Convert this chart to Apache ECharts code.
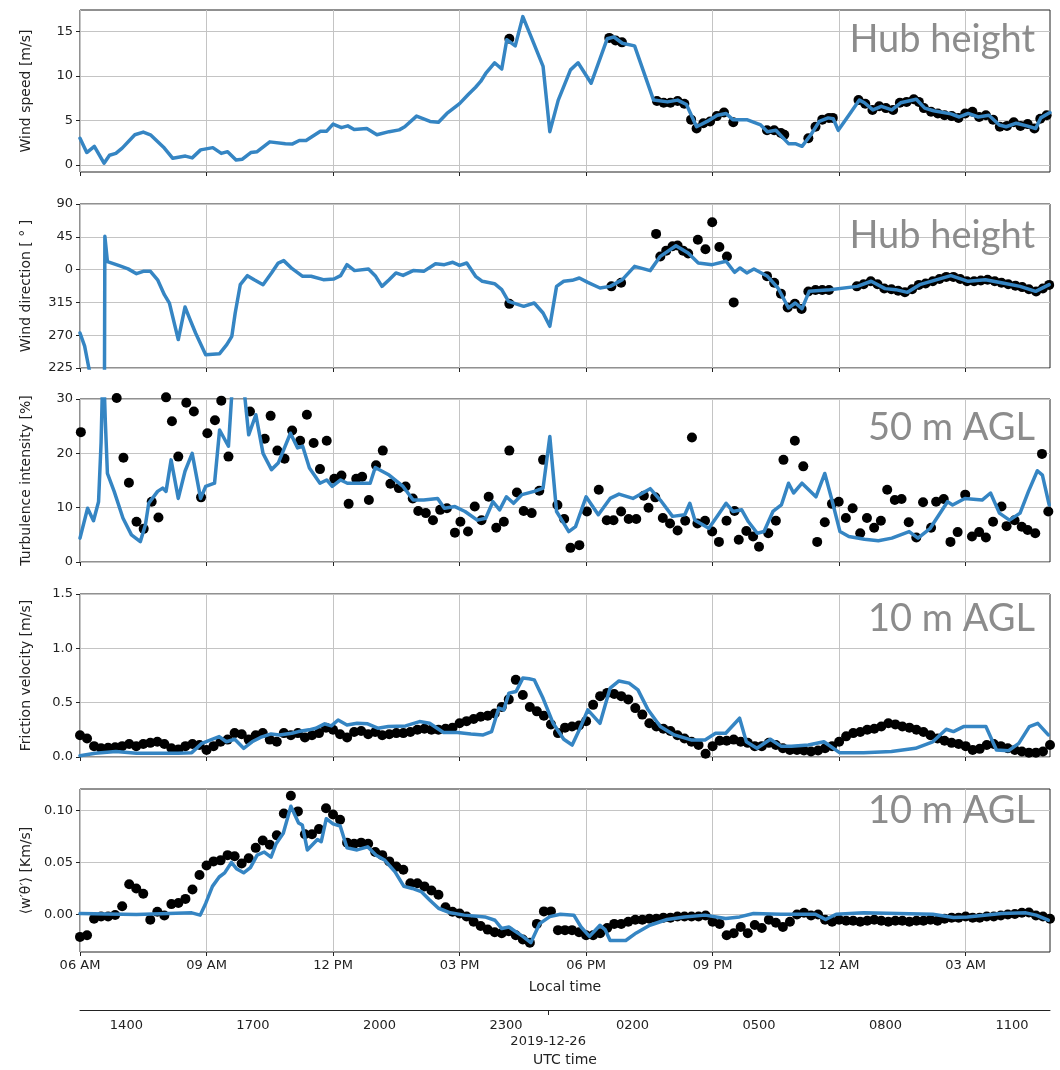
<!DOCTYPE html>
<html><head><meta charset="utf-8">
<script src="https://cdn.jsdelivr.net/npm/echarts@6/dist/echarts.min.js"></script>
<style>html,body{margin:0;padding:0;background:#fff}#c{width:1060px;height:1070px}</style>
</head><body><div id="c"></div>
<script>
// ---------- tick labels ----------
const localTicks = [0, 3, 6, 9, 12, 15, 18, 21];              // hours after 06:00 local
const localTickLabels = ['06 AM','09 AM','12 PM','03 PM','06 PM','09 PM','12 AM','03 AM'];
const utcTicks = [14, 17, 20, 23, 26, 29, 32, 35];             // UTC hours
const utcTickLabels = ['1400','1700','2000','2300','0200','0500','0800','1100'];
const utcDateTick = [24];
const utcDateLabel = '2019-12-26';
const panelLabels = ['Hub height', 'Hub height', '50 m AGL', '10 m AGL', '10 m AGL'];
const axisNames = ['Wind speed [m/s]', 'Wind direction [ ° ]', 'Turbulence intensity [%]', 'Friction velocity [m/s]', '⟨w′θ′⟩ [Km/s]'];

// ---------- panel 1: wind speed (model line, observations) [hour, value] ----------
const windSpeedModel = [[0,3.0],[0.16,1.4],[0.34,2.1],[0.57,0.2],[0.7,1.1],[0.85,1.3],[1.0,1.9],[1.3,3.4],[1.5,3.7],[1.67,3.4],[2.0,1.9],[2.2,0.75],[2.5,1.0],[2.66,0.8],[2.86,1.7],[3.15,1.95],[3.35,1.3],[3.5,1.5],[3.7,0.55],[3.85,0.65],[4.05,1.4],[4.2,1.5],[4.5,2.6],[4.87,2.4],[5.03,2.35],[5.2,2.75],[5.36,2.75],[5.7,3.8],[5.85,3.8],[6.0,4.6],[6.2,4.2],[6.35,4.4],[6.5,4.0],[6.8,4.1],[7.04,3.4],[7.33,3.75],[7.57,3.95],[7.7,4.3],[7.98,5.5],[8.3,4.9],[8.5,4.8],[8.7,5.8],[9.0,6.9],[9.2,7.9],[9.38,8.75],[9.5,9.4],[9.62,10.3],[9.83,11.5],[10.0,10.8],[10.12,14.1],[10.32,13.4],[10.5,16.7],[10.69,14.5],[10.98,11.1],[11.14,3.75],[11.34,7.3],[11.63,10.7],[11.81,11.5],[12.12,9.2],[12.5,14.2],[12.66,14.4],[12.86,13.7],[13.15,13.4],[13.6,7.3],[13.93,7.1],[14.17,7.3],[14.38,6.8],[14.62,4.3],[14.87,4.9],[15.11,5.6],[15.32,5.8],[15.48,5.1],[15.81,5.1],[16.14,4.5],[16.3,3.75],[16.5,3.9],[16.8,2.4],[16.96,2.4],[17.12,2.1],[17.33,3.4],[17.53,4.9],[17.74,5.3],[17.86,5.2],[17.98,3.9],[18.23,5.6],[18.48,7.3],[18.6,7.0],[18.8,6.2],[19.0,6.6],[19.25,6.2],[19.46,7.0],[19.83,7.4],[20.03,6.4],[20.24,6.1],[20.65,5.75],[20.85,5.4],[21.06,5.8],[21.3,5.4],[21.55,5.6],[21.8,4.5],[21.96,4.3],[22.2,4.7],[22.45,4.4],[22.66,4.1],[22.78,5.3],[23.0,5.9]];
const windSpeedObs = [[10.18,14.2],[12.55,14.3],[12.7,14.0],[12.85,13.8],[13.68,7.2],[13.84,7.0],[14.0,7.0],[14.17,7.2],[14.33,6.9],[14.49,5.1],[14.62,4.1],[14.78,4.7],[14.94,4.9],[15.1,5.5],[15.27,5.9],[15.49,4.8],[16.29,3.9],[16.46,3.9],[16.62,3.6],[16.7,3.4],[17.27,3.0],[17.44,4.3],[17.6,5.1],[17.76,5.3],[17.85,5.3],[18.46,7.3],[18.62,6.9],[18.79,6.2],[18.95,6.6],[19.11,6.4],[19.28,6.2],[19.44,7.0],[19.6,7.1],[19.77,7.4],[19.89,7.1],[20.01,6.4],[20.18,6.0],[20.34,5.8],[20.5,5.6],[20.67,5.5],[20.83,5.3],[20.99,5.8],[21.16,6.0],[21.32,5.4],[21.48,5.6],[21.65,5.1],[21.81,4.3],[21.98,4.4],[22.14,4.8],[22.3,4.4],[22.47,4.6],[22.63,4.1],[22.77,5.2],[22.92,5.6]];

// ---------- panel 2: wind direction, degrees on an axis running 225..450 (= 90) ----------
const windDirModel = [[0,273],[0.11,255],[0.21,225],[0.3,205],[0.58,205],[0.59,405.6],[0.65,371],[0.93,365.4],[1.14,361],[1.34,354.4],[1.5,357.6],[1.67,357.6],[1.84,346],[2.0,325.6],[2.12,314],[2.33,264],[2.49,308.7],[2.61,291.3],[2.74,273],[2.98,243.3],[3.31,244.7],[3.48,257],[3.6,268.5],[3.68,300.5],[3.8,339.3],[3.97,351.7],[4.13,346],[4.34,339.3],[4.54,355.4],[4.7,369],[4.83,372.3],[5.03,361.3],[5.28,350.8],[5.48,350.8],[5.77,346.2],[6.02,347.1],[6.18,351.7],[6.33,366.8],[6.51,358.6],[6.84,360.8],[7.0,351.7],[7.16,337],[7.33,346.2],[7.49,355.4],[7.66,352],[7.9,358.6],[8.15,357.6],[8.43,368.1],[8.64,366.8],[8.84,370],[9.0,365.9],[9.17,369.1],[9.38,350.8],[9.54,343.9],[9.83,340.7],[10.0,332.5],[10.16,316.5],[10.52,309.6],[10.77,314.2],[10.98,300.5],[11.14,282.2],[11.3,337],[11.47,344],[11.67,345.3],[11.84,348.5],[12.04,342.5],[12.33,334.8],[12.57,337],[12.86,346.2],[13.15,364.5],[13.52,358.6],[13.76,378.2],[14.13,392.8],[14.42,382.8],[14.66,369.1],[14.99,366.8],[15.32,371.4],[15.52,356.3],[15.65,362.2],[15.81,355.4],[15.98,360.8],[16.3,350.8],[16.55,334.8],[16.8,307.3],[16.96,314.2],[17.12,306.4],[17.29,330.2],[17.78,332.5],[18.43,337],[18.76,344],[19.09,333.9],[19.34,332.5],[19.62,328.8],[19.91,339.3],[20.32,346.2],[20.65,351.7],[21.06,343.9],[21.47,346.2],[21.88,341.6],[22.29,337],[22.66,330.2],[22.98,339.3]];
const windDirObs = [[10.18,313],[12.6,337],[12.83,342],[13.66,409],[13.76,378],[13.9,386],[14.05,392],[14.17,393],[14.3,386],[14.42,382],[14.65,401],[14.83,388],[14.99,425],[15.16,391],[15.34,378],[15.5,315],[16.29,351],[16.46,342],[16.62,327],[16.78,308],[16.95,313],[17.11,306],[17.27,330],[17.44,332],[17.6,332],[17.76,332],[18.42,337],[18.58,340],[18.75,344],[18.91,340],[19.07,334],[19.24,333],[19.4,331],[19.56,329],[19.73,333],[19.89,339],[20.05,341],[20.22,344],[20.38,347],[20.54,350],[20.71,350],[20.87,347],[21.03,344],[21.2,344],[21.36,345],[21.52,346],[21.69,344],[21.85,342],[22.01,340],[22.18,338],[22.34,336],[22.5,333],[22.67,330],[22.83,334],[22.98,339]];

// ---------- panel 3: turbulence intensity ----------
const tiModel = [[0,4.4],[0.18,9.9],[0.32,7.6],[0.44,11.1],[0.5,22],[0.55,38],[0.6,26],[0.65,16.3],[0.81,13],[1.02,8.05],[1.22,5],[1.43,3.75],[1.55,6.8],[1.63,10.8],[1.84,13],[1.96,13.6],[2.04,13],[2.16,18.8],[2.33,11.7],[2.49,16.7],[2.66,20],[2.86,11.7],[2.98,13.9],[3.19,14.5],[3.31,24.3],[3.52,21.3],[3.6,31],[3.7,38],[3.82,38],[3.9,31],[4.0,23.4],[4.17,27.1],[4.34,20],[4.54,17],[4.7,18.2],[4.99,23.7],[5.16,21],[5.28,21.3],[5.44,17.3],[5.69,14.5],[5.85,15.1],[5.98,13.9],[6.18,15.1],[6.34,14.5],[6.67,14.5],[6.88,14.5],[7.0,17.4],[7.33,16],[7.66,13.9],[7.9,11.4],[8.15,11.4],[8.48,11.7],[8.64,9.9],[8.89,10.2],[9.13,9.3],[9.42,7.7],[9.62,8.05],[9.79,11.1],[9.95,9.6],[10.11,12],[10.28,10.8],[10.48,12.4],[10.77,13],[10.98,13.6],[11.14,23.1],[11.3,9.3],[11.59,5.6],[11.75,6.5],[12.0,12],[12.29,8.7],[12.57,11.7],[12.78,12.5],[13.11,11.7],[13.52,13.5],[13.76,11.4],[14.05,8.4],[14.34,8.7],[14.46,10.8],[14.58,7.7],[14.91,6.2],[15.11,8.4],[15.32,10.8],[15.48,9.3],[15.69,9.6],[15.85,7.4],[16.06,5.3],[16.22,5.6],[16.43,9.3],[16.63,10.5],[16.8,14.5],[16.92,12.7],[17.12,14.5],[17.45,12],[17.66,16.3],[17.82,11.7],[18.02,5.6],[18.23,4.7],[18.6,4.2],[18.93,3.9],[19.25,4.4],[19.66,5.6],[19.87,4.4],[20.16,6.2],[20.57,11.1],[20.69,10.5],[20.98,11.7],[21.39,11.4],[21.59,12.7],[21.8,9],[22.04,7.7],[22.29,9],[22.49,13],[22.7,16.8],[22.82,16],[22.98,10.5]];
const tiObs = [[0.02,23.9],[0.87,30.2],[1.03,19.2],[1.16,14.6],[1.34,7.4],[1.51,6.1],[1.7,11.1],[1.86,8.2],[2.04,30.3],[2.18,25.9],[2.33,19.4],[2.52,29.3],[2.7,27.7],[2.87,11.9],[3.02,23.7],[3.2,26.1],[3.35,29.7],[3.52,19.4],[4.03,27.7],[4.38,22.7],[4.52,26.9],[4.68,20.5],[4.85,19],[5.03,24.2],[5.22,22.3],[5.38,27.1],[5.54,21.9],[5.69,17.1],[5.85,22.3],[6.03,15.3],[6.2,15.9],[6.37,10.7],[6.55,15.3],[6.69,15.7],[6.85,11.4],[7.02,17.8],[7.18,20.5],[7.36,14.4],[7.56,13.6],[7.72,13.9],[7.89,11.7],[8.02,9.4],[8.2,9.0],[8.37,7.7],[8.54,9.6],[8.7,9.9],[8.89,5.4],[9.02,7.4],[9.2,5.6],[9.36,10.2],[9.52,7.7],[9.69,12],[9.87,6.3],[10.05,7.4],[10.18,20.5],[10.36,12.8],[10.52,9.4],[10.71,9.0],[10.89,13.1],[10.98,18.8],[11.32,10.5],[11.48,7.9],[11.63,2.6],[11.84,3.1],[12.02,9.3],[12.3,13.3],[12.49,7.7],[12.65,7.7],[12.83,9.3],[13.01,7.9],[13.19,7.9],[13.37,12.2],[13.48,10.0],[13.64,11.9],[13.82,8.1],[13.99,7.1],[14.17,5.8],[14.35,7.6],[14.51,22.9],[14.64,7.1],[14.82,7.6],[14.99,5.6],[15.15,3.7],[15.33,7.6],[15.52,9.4],[15.62,4.1],[15.8,5.7],[15.96,4.7],[16.1,2.8],[16.32,5.3],[16.5,7.6],[16.68,18.8],[16.95,22.3],[17.15,17.6],[17.48,3.7],[17.66,7.3],[17.83,10.7],[17.99,11.1],[18.16,8.1],[18.32,9.9],[18.5,5.3],[18.66,8.1],[18.83,6.3],[18.99,7.6],[19.14,13.3],[19.32,11.4],[19.48,11.6],[19.65,7.3],[19.83,4.5],[19.99,11.0],[20.18,6.3],[20.3,11.1],[20.48,11.6],[20.64,3.7],[20.81,5.5],[20.99,12.4],[21.15,4.7],[21.32,5.5],[21.48,4.5],[21.65,7.4],[21.85,10.2],[21.97,6.6],[22.16,7.7],[22.33,6.5],[22.47,5.9],[22.65,5.3],[22.81,19.9],[22.96,9.3]];

// ---------- panel 4: friction velocity ----------
const ustarModel = [[0,0.012],[0.36,0.034],[0.85,0.05],[1.34,0.034],[1.83,0.034],[2.32,0.034],[2.65,0.04],[2.89,0.126],[3.1,0.157],[3.3,0.188],[3.47,0.14],[3.67,0.163],[3.88,0.08],[4.08,0.14],[4.28,0.18],[4.53,0.212],[4.73,0.203],[5.02,0.218],[5.18,0.234],[5.43,0.25],[5.59,0.265],[5.8,0.305],[5.96,0.286],[6.12,0.34],[6.33,0.295],[6.57,0.31],[6.82,0.305],[7.06,0.265],[7.31,0.28],[7.72,0.286],[8.05,0.326],[8.29,0.31],[8.62,0.225],[8.95,0.225],[9.27,0.212],[9.56,0.203],[9.76,0.234],[9.93,0.45],[10.05,0.434],[10.17,0.588],[10.34,0.603],[10.5,0.726],[10.65,0.72],[10.77,0.71],[10.98,0.54],[11.22,0.31],[11.47,0.163],[11.67,0.11],[11.84,0.25],[12.04,0.434],[12.33,0.31],[12.57,0.634],[12.78,0.7],[13.02,0.68],[13.23,0.618],[13.47,0.434],[13.76,0.28],[14.09,0.203],[14.49,0.157],[14.82,0.157],[15.07,0.218],[15.31,0.218],[15.64,0.357],[15.8,0.14],[16.05,0.08],[16.37,0.163],[16.62,0.1],[16.87,0.1],[17.27,0.11],[17.64,0.14],[18.01,0.04],[18.58,0.04],[19.24,0.05],[19.81,0.08],[20.22,0.14],[20.54,0.255],[20.71,0.234],[20.95,0.28],[21.48,0.28],[21.73,0.065],[22.02,0.058],[22.26,0.126],[22.51,0.28],[22.71,0.31],[22.96,0.203]];
// observations every 10 minutes starting at 06:00 local
const obsStepHours = 1 / 6;
const ustarObs = [0.2,0.17,0.1,0.08,0.085,0.09,0.1,0.12,0.1,0.12,0.13,0.14,0.12,0.08,0.07,0.1,0.12,0.11,0.065,0.1,0.14,0.16,0.22,0.21,0.16,0.2,0.22,0.16,0.14,0.22,0.2,0.22,0.18,0.2,0.22,0.27,0.25,0.21,0.18,0.23,0.24,0.21,0.23,0.2,0.21,0.22,0.22,0.23,0.25,0.26,0.25,0.25,0.26,0.27,0.31,0.33,0.35,0.37,0.38,0.4,0.46,0.53,0.71,0.57,0.46,0.42,0.38,0.3,0.22,0.27,0.28,0.29,0.33,0.48,0.56,0.59,0.58,0.56,0.53,0.45,0.39,0.31,0.28,0.26,0.24,0.2,0.17,0.14,0.11,0.03,0.1,0.15,0.15,0.16,0.14,0.13,0.1,0.1,0.13,0.11,0.08,0.065,0.065,0.06,0.05,0.06,0.08,0.1,0.14,0.19,0.22,0.23,0.25,0.26,0.28,0.31,0.3,0.28,0.27,0.25,0.23,0.2,0.17,0.15,0.13,0.12,0.1,0.065,0.075,0.11,0.12,0.1,0.08,0.065,0.05,0.04,0.04,0.05,0.11];

// ---------- panel 5: kinematic heat flux ----------
const heatModel = [[0,0.001],[1.34,0.0],[2.65,0.0016],[2.85,-0.0006],[2.98,0.0106],[3.14,0.027],[3.3,0.036],[3.43,0.04],[3.59,0.05],[3.71,0.044],[3.88,0.04],[4.04,0.045],[4.2,0.057],[4.37,0.06],[4.53,0.055],[4.65,0.068],[4.82,0.078],[5.0,0.104],[5.18,0.088],[5.27,0.086],[5.39,0.062],[5.51,0.067],[5.63,0.072],[5.72,0.07],[5.84,0.092],[6.0,0.087],[6.17,0.085],[6.33,0.064],[6.57,0.062],[6.82,0.065],[7.02,0.057],[7.23,0.052],[7.47,0.041],[7.68,0.027],[7.88,0.025],[8.09,0.022],[8.29,0.014],[8.5,0.006],[8.78,0.0016],[9.11,-0.0006],[9.6,-0.0023],[9.84,-0.0055],[10.0,-0.0135],[10.17,-0.012],[10.34,-0.0167],[10.5,-0.021],[10.69,-0.027],[10.9,-0.0087],[11.14,-0.002],[11.39,0.0003],[11.71,-0.0006],[11.88,-0.012],[12.08,-0.021],[12.33,-0.0103],[12.45,-0.0145],[12.57,-0.025],[12.94,-0.025],[13.19,-0.0177],[13.51,-0.0103],[13.92,-0.0048],[14.33,-0.0023],[14.82,-0.0006],[15.31,-0.0039],[15.64,-0.0023],[15.97,0.001],[16.62,0.0003],[17.44,0.0003],[17.68,-0.0048],[17.93,0.0003],[18.58,0.0016],[19.4,0.001],[20.22,0.0003],[20.71,-0.0029],[21.04,-0.0023],[21.85,0.001],[22.43,0.0016],[22.67,-0.0006],[22.96,-0.0055]];
const heatObs = [-0.0215,-0.02,-0.004,-0.002,-0.002,-0.0005,0.008,0.029,0.025,0.02,-0.005,0.0026,-0.001,0.01,0.011,0.015,0.024,0.038,0.047,0.051,0.052,0.057,0.056,0.049,0.054,0.064,0.071,0.067,0.076,0.097,0.114,0.099,0.077,0.077,0.082,0.102,0.096,0.091,0.069,0.068,0.069,0.068,0.06,0.057,0.051,0.046,0.043,0.03,0.03,0.027,0.023,0.019,0.007,0.0026,0.001,-0.002,-0.007,-0.011,-0.0145,-0.017,-0.018,-0.016,-0.02,-0.024,-0.027,-0.009,0.003,0.003,-0.015,-0.015,-0.015,-0.017,-0.02,-0.02,-0.018,-0.013,-0.009,-0.009,-0.007,-0.005,-0.005,-0.004,-0.004,-0.003,-0.003,-0.002,-0.002,-0.002,-0.002,-0.001,-0.007,-0.009,-0.02,-0.018,-0.012,-0.018,-0.01,-0.013,-0.005,-0.008,-0.012,-0.007,0,0.0016,-0.001,0,-0.005,-0.007,-0.005,-0.006,-0.006,-0.007,-0.006,-0.005,-0.006,-0.007,-0.006,-0.006,-0.007,-0.006,-0.006,-0.005,-0.006,-0.004,-0.003,-0.003,-0.002,-0.003,-0.003,-0.002,-0.002,-0.001,0.0,0.0005,0.0016,0.002,-0.001,-0.002,-0.004];

// ---------- chart ----------
const FONT = 'DejaVu Sans';
const TXT = '#222';
const LINE_C = '#3585c3';
const gridBoxes = [
  {top: 10, height: 162}, {top: 204, height: 164}, {top: 399, height: 163},
  {top: 594, height: 163}, {top: 789, height: 163}
];
const yCfg = [
  {min: -0.79, max: 17.44, ticks: [0, 5, 10, 15], fmt: v => String(v)},
  {min: 225, max: 450, ticks: [225, 270, 315, 360, 405, 450], fmt: v => String(v % 360)},
  {min: 0, max: 30, ticks: [0, 10, 20, 30], fmt: v => String(v)},
  {min: 0, max: 1.5, ticks: [0, 0.5, 1.0, 1.5], fmt: v => v.toFixed(1)},
  {min: -0.036, max: 0.1205, ticks: [0, 0.05, 0.1], fmt: v => v.toFixed(2)}
];
const labelTops = [16, 212, 404, 595, 787];

const toSteps = arr => arr.map((v, i) => [i * obsStepHours, v]);
const models = [windSpeedModel, windDirModel, tiModel, ustarModel, heatModel];
const obs = [windSpeedObs, windDirObs, tiObs, toSteps(ustarObs), toSteps(heatObs)];

const grid = gridBoxes.map(g => ({
  left: 80, right: 10, top: g.top, height: g.height, show: true,
  borderColor: TXT, borderWidth: 1, backgroundColor: 'transparent'
}));

const xAxis = gridBoxes.map((g, i) => ({
  type: 'value', gridIndex: i, min: 0, max: 23,
  axisLine: {show: false, onZero: false},
  axisTick: {show: true, customValues: localTicks, length: 4, lineStyle: {color: TXT}},
  axisLabel: {show: i === 4, customValues: localTicks, margin: 7,
    formatter: v => localTickLabels[localTicks.indexOf(v)],
    fontFamily: FONT, fontSize: 13, color: TXT},
  splitLine: {show: true, lineStyle: {color: '#c4c4c4', width: 1}},
  name: i === 4 ? 'Local time' : '', nameLocation: 'middle', nameGap: 28,
  nameTextStyle: {fontFamily: FONT, fontSize: 14, color: TXT}
}));
xAxis.push({
  type: 'value', gridIndex: 4, position: 'bottom', offset: 58, min: 12.9, max: 35.9,
  axisLine: {show: true, onZero: false, lineStyle: {color: TXT, width: 1}},
  axisTick: {show: true, customValues: utcDateTick, length: 5, lineStyle: {color: TXT}},
  axisLabel: {customValues: utcTicks, margin: 9,
    formatter: v => utcTickLabels[utcTicks.indexOf(v)],
    fontFamily: FONT, fontSize: 13, color: TXT},
  splitLine: {show: false}
});
xAxis.push({
  type: 'value', gridIndex: 4, position: 'bottom', offset: 58, min: 12.9, max: 35.9,
  axisLine: {show: false, onZero: false}, axisTick: {show: false},
  axisLabel: {customValues: utcDateTick, margin: 25, formatter: () => utcDateLabel,
    fontFamily: FONT, fontSize: 13, color: TXT},
  splitLine: {show: false},
  name: 'UTC time', nameLocation: 'middle', nameGap: 43,
  nameTextStyle: {fontFamily: FONT, fontSize: 14, color: TXT}
});

const yAxis = yCfg.map((c, i) => ({
  type: 'value', gridIndex: i, min: c.min, max: c.max,
  axisLine: {show: false, onZero: false},
  axisTick: {show: true, customValues: c.ticks, length: 4, lineStyle: {color: TXT}},
  axisLabel: {customValues: c.ticks, formatter: c.fmt, margin: 7,
    fontFamily: FONT, fontSize: 13, color: TXT},
  splitLine: {show: true, lineStyle: {color: '#c4c4c4', width: 1}},
  name: axisNames[i], nameLocation: 'middle', nameGap: 47, nameRotate: 90,
  nameTextStyle: {fontFamily: FONT, fontSize: 14, color: TXT}
}));

const series = [];
models.forEach((m, i) => {
  series.push({
    type: 'scatter', xAxisIndex: i, yAxisIndex: i, data: obs[i],
    symbolSize: 10, itemStyle: {color: '#000', opacity: 1}, z: 2, clip: false, silent: true
  });
  series.push({
    type: 'line', xAxisIndex: i, yAxisIndex: i, data: m, showSymbol: false,
    lineStyle: {color: LINE_C, width: 3.5, join: 'round', cap: 'round'}, z: 3, clip: true, silent: true
  });
});

const title = panelLabels.map((t, i) => ({
  text: t, right: 20, top: labelTops[i],
  textStyle: {fontFamily: 'Lato', fontSize: 38, fontWeight: 'normal', color: '#8c8c8c'}
}));

const chart = echarts.init(document.getElementById('c'), null, {renderer: 'canvas'});
chart.setOption({animation: false, backgroundColor: '#fff', title, grid, xAxis, yAxis, series});
</script></body></html>
